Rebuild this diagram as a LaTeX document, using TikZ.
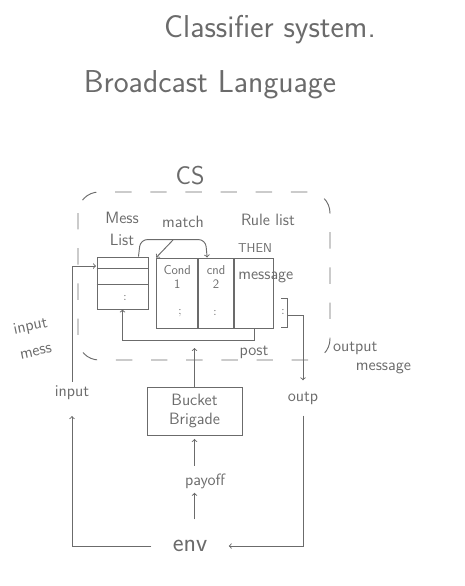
\documentclass[tikz,border=0pt]{standalone}
\usepackage{tikz}
\usetikzlibrary{positioning}
\usetikzlibrary{calc}
\definecolor{pencil}{gray}{0.42}

\begin{document}
\begin{tikzpicture}[x=0.03cm,y=-0.03cm,line width=0.8pt,color=pencil,
		lbl/.style={font=\sffamily\fontsize{14}{16}\selectfont},
		small/.style={font=\sffamily\fontsize{11}{12}\selectfont},
		big/.style={font=\sffamily\fontsize{22}{26}\selectfont},
		title/.style={font=\sffamily\fontsize{27}{30}\selectfont}]
		\useasboundingbox (0,0) rectangle (464,586);
		\tikzset{cell/.style={draw,minimum height=2.1cm,inner sep=0pt}}
		\node[title] at (270,30) {Classifier system.};
		\node[title] at (210,85) {Broadcast Language};
		\node[big] (cs) at (190,176) {CS};
		\draw [dashed,dash pattern=on 14pt off 16pt,rounded corners=18pt] (78,192) rectangle (330,360);
		\node[lbl,align=center] at (122,229) {Mess\\[3pt]List};
		\node[lbl] at (183,222) {match};
		\node[lbl] at (268,220) {Rule list};
		\node[small] at (255,248) {THEN};
		\node[cell,minimum width=1.53cm,minimum height=1.56cm] (msg) at (122.5,283) {};
		\draw (msg.west |- 0,268) -- (msg.east |- 0,268);
		\draw (msg.west |- 0,284) -- (msg.east |- 0,284);
		\node at (125,298) {:};
		\node[cell,minimum width=1.23cm] (c1) at (177.2,293) {};
		\node[cell,minimum width=1.05cm,right=0pt of c1] (c2) {};
		\node[cell,minimum width=1.17cm,right=0pt of c2] (c3) {};
		\node[small,align=center,below=3pt of c1.north] {Cond\\1};
		\node[small,align=center,below=3pt of c2.north] {cnd\\2};
		\node[lbl] at (234,277) [right] {message};
		\node at (180,313) {;};
		\node at (215,313) {:};
		\draw (281,298) -- (287,298) -- (287,327) -- (281,327);
		\node at (283,312) {:};
		\coordinate (brk) at (287,315);
		\coordinate (msgin) at (96,266);
		\coordinate (mfork) at (173,240);
		\coordinate (bbtip) at (194.5,348);
		\node[lbl] at (254,352) {post};
		\node[lbl,align=left] at (372,358) {output\\\hspace{1.4em}message};
		\node[lbl,align=center,rotate=12] at (33,338) {input\\[6pt]mess};
		\node[lbl] (input) at (72,393) {input};
		\node[lbl] (outp) at (303,398) {outp};
		\node[lbl,draw,minimum width=2.85cm,minimum height=1.44cm,align=center] (bb) at (194.5,411) {Bucket\\Brigade};
		\node[lbl] (payoff) at (205,481) {payoff};
		\node[big,inner xsep=18pt] (env) at (190,546) {env};
		\draw [->,rounded corners=6pt] ($(msg.north east)+(-10,0)$) -- ++(2,-17) -- ++(65,0) -- ($(c2.north)+(-9,0)$);
		\draw [->] (mfork) -- (c1.north west);
		\draw [->] (c3.south) -- ++(0,12) -| (msg.south);
		\draw [->] (bb.north) -- (bbtip);
		\draw [->,shorten <=3pt,shorten >=3pt] (payoff.north -| bb) -- (bb.south);
		\draw [->,shorten <=14pt] (env.north -| bb) -- (payoff.south -| bb);
		\draw [->] (brk) -| ([yshift=6pt]outp.north);
		\draw [->,shorten <=6pt] (outp.south) |- (env.east);
		\draw [->,shorten >=10pt] (env.west) -| (input.south);
		\draw [->] (input.north) |- (msgin);
\end{tikzpicture}
\end{document}
